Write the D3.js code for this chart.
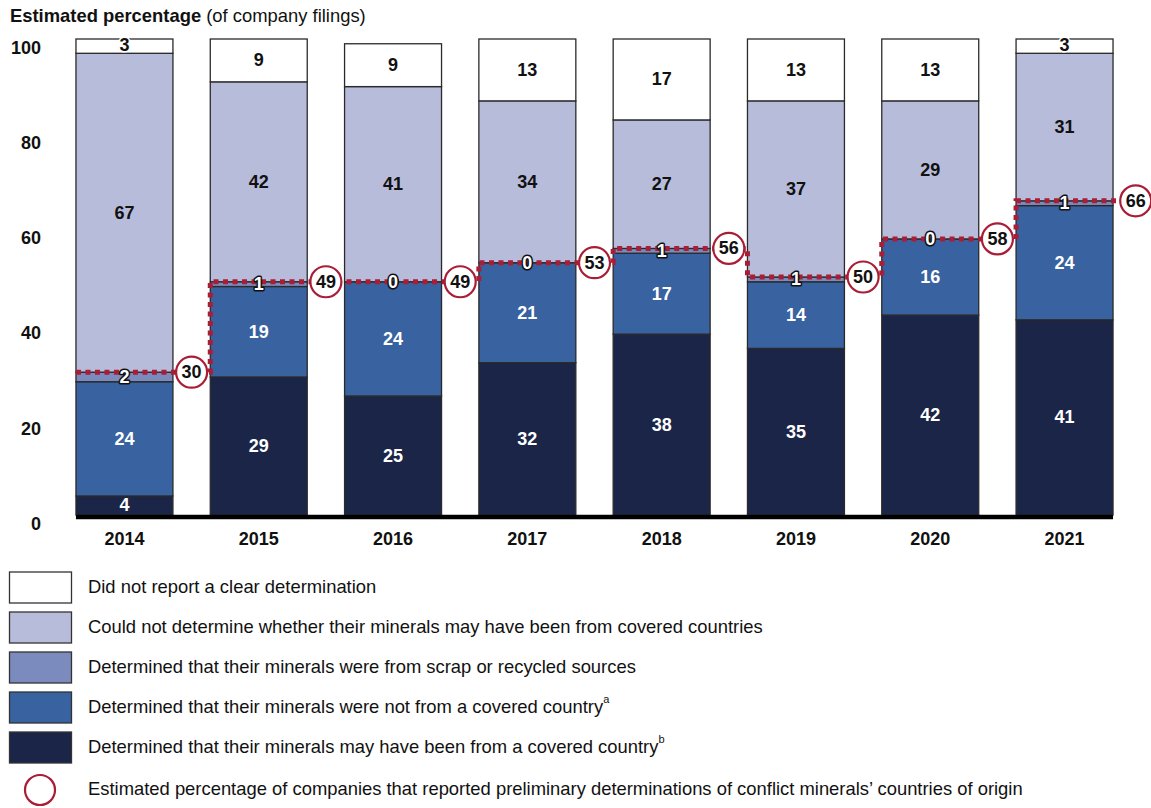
<!DOCTYPE html>
<html>
<head>
<meta charset="utf-8">
<script src="https://cdn.jsdelivr.net/npm/d3@7/dist/d3.min.js"></script>
<style>
  html, body { margin: 0; padding: 0; background: #fff; }
  svg { display: block; font-family: "Liberation Sans", Arial, sans-serif; }
</style>
</head>
<body>
<svg id="chart" width="1151" height="808"></svg>
<script>
// ---- Data ----
const years = ["2014", "2015", "2016", "2017", "2018", "2019", "2020", "2021"];
const mayHaveBeenFrom = [4, 29, 25, 32, 38, 35, 42, 41];
const notFromCovered = [24, 19, 24, 21, 17, 14, 16, 24];
const scrapRecycled = [2, 1, 0, 0, 1, 1, 0, 1];
const couldNotDetermine = [67, 42, 41, 34, 27, 37, 29, 31];
const noClearDetermination = [3, 9, 9, 13, 17, 13, 13, 3];
const preliminary = [30, 49, 49, 53, 56, 50, 58, 66];
const yTicks = [0, 20, 40, 60, 80, 100];

const seriesNames = [
  "Determined that their minerals may have been from a covered country",
  "Determined that their minerals were not from a covered country",
  "Determined that their minerals were from scrap or recycled sources",
  "Could not determine whether their minerals may have been from covered countries",
  "Did not report a clear determination"
];
const seriesValues = [mayHaveBeenFrom, notFromCovered, scrapRecycled, couldNotDetermine, noClearDetermination];
const seriesColors = ["#1a2548", "#3862a0", "#7b8bbd", "#b8bcdb", "#ffffff"];
const seriesTextFill = ["#fff", "#fff", "#fff", "#111", "#111"];
const legendOrder = [4, 3, 2, 1, 0];
const legendSup = ["b", "a", "", "", ""];
const circleLegendText = "Estimated percentage of companies that reported preliminary determinations of conflict minerals\u2019 countries of origin";

// ---- Layout ----
const svg = d3.select("#chart");
const red = "#a91d36";

const x = d3.scaleBand().domain(years).range([57.3, 1131.7]).paddingInner(0.278).paddingOuter(0.139);
const y = d3.scaleLinear().domain([0, 100]).range([515, 39]);
const bw = x.bandwidth();
const gap = x.step() - bw;

// Title
const title = svg.append("text").attr("x", 10).attr("y", 22).attr("font-size", 18.4).attr("fill", "#111");
title.append("tspan").attr("font-weight", "bold").text("Estimated percentage");
title.append("tspan").text(" (of company filings)");

// Y tick labels
svg.append("g").selectAll("text").data(yTicks).join("text")
  .attr("x", 41).attr("y", d => y(d) + 10)
  .attr("text-anchor", "end").attr("dominant-baseline", "middle")
  .attr("font-size", 18).attr("font-weight", "bold").attr("fill", "#111")
  .text(d => d);

// Stack data
const table = years.map((yr, i) => {
  const o = { year: yr };
  seriesValues.forEach((arr, k) => o["s" + k] = arr[i]);
  return o;
});
const stack = d3.stack().keys(seriesValues.map((_, k) => "s" + k))(table);

const gBars = svg.append("g");
stack.forEach((layer, k) => {
  gBars.append("g").selectAll("rect").data(layer).join("rect")
    .attr("x", d => x(d.data.year))
    .attr("y", d => y(d[1]))
    .attr("width", bw)
    .attr("height", d => Math.max(0, y(d[0]) - y(d[1])))
    .attr("fill", seriesColors[k])
    .attr("stroke", "#2a2a2a")
    .attr("stroke-width", 1.3);
});

// Baseline
svg.append("line")
  .attr("x1", x(years[0])).attr("x2", x(years[years.length - 1]) + bw)
  .attr("y1", y(0) + 2).attr("y2", y(0) + 2)
  .attr("stroke", "#000").attr("stroke-width", 4.5);

// Dotted step line for preliminary determinations
const pts = [];
years.forEach((yr, i) => {
  const v = preliminary[i];
  const xl = x(yr);
  const last = i === years.length - 1;
  const xr = last ? xl + bw + gap / 2 + 4 : x(years[i + 1]);
  pts.push([xl, y(v)]);
  pts.push([xr, y(v)]);
});
svg.append("path")
  .attr("d", d3.line()(pts))
  .attr("fill", "none").attr("stroke", red)
  .attr("stroke-width", 5).attr("stroke-dasharray", "5 4.5");

// Segment labels
const gLab = svg.append("g");
stack.forEach((layer, k) => {
  const halo = (k === 2 || k === 4);
  gLab.append("g").selectAll("text").data(layer).join("text")
    .attr("x", d => x(d.data.year) + bw / 2)
    .attr("y", d => y((d[0] + d[1]) / 2) + (k === 4 && d[1] - d[0] < 5 ? -1 : 0))
    .attr("text-anchor", "middle").attr("dominant-baseline", "central")
    .attr("font-size", 18).attr("font-weight", "bold")
    .attr("fill", seriesTextFill[k])
    .attr("stroke", halo ? (k === 2 ? "#111" : "#fff") : "none")
    .attr("stroke-width", halo ? 3 : 0)
    .attr("paint-order", "stroke")
    .attr("stroke-linejoin", "round")
    .text(d => d[1] - d[0]);
});

// Circles
const gC = svg.append("g");
years.forEach((yr, i) => {
  const last = i === years.length - 1;
  const cx = x(yr) + bw + gap / 2 + (last ? 4 : 0);
  const cy = y(preliminary[i]);
  gC.append("circle").attr("cx", cx).attr("cy", cy).attr("r", 15.5)
    .attr("fill", "#fff").attr("stroke", red).attr("stroke-width", 2.2);
  gC.append("text").attr("x", cx).attr("y", cy)
    .attr("text-anchor", "middle").attr("dominant-baseline", "central")
    .attr("font-size", 18).attr("font-weight", "bold").attr("fill", "#111")
    .text(preliminary[i]);
});

// Year labels
svg.append("g").selectAll("text").data(years).join("text")
  .attr("x", d => x(d) + bw / 2).attr("y", 540)
  .attr("text-anchor", "middle").attr("dominant-baseline", "middle")
  .attr("font-size", 18).attr("font-weight", "bold").attr("fill", "#111")
  .text(d => d);

// Legend
const gLeg = svg.append("g");
legendOrder.forEach((k, j) => {
  const top = 572 + j * 40;
  gLeg.append("rect").attr("x", 9.5).attr("y", top).attr("width", 62).attr("height", 31)
    .attr("fill", seriesColors[k]).attr("stroke", "#333").attr("stroke-width", 1.3);
  const t = gLeg.append("text").attr("x", 88).attr("y", top + 15.5)
    .attr("dominant-baseline", "middle").attr("font-size", 18.4).attr("fill", "#111");
  t.append("tspan").text(seriesNames[k]);
  if (legendSup[k]) {
    t.append("tspan").attr("font-size", 11).attr("dy", -8).text(legendSup[k]);
  }
});
gLeg.append("circle").attr("cx", 40).attr("cy", 790).attr("r", 15)
  .attr("fill", "#fff").attr("stroke", red).attr("stroke-width", 2.2);
gLeg.append("text").attr("x", 88).attr("y", 790)
  .attr("dominant-baseline", "middle").attr("font-size", 18.4).attr("fill", "#111")
  .text(circleLegendText);
</script>
</body>
</html>
